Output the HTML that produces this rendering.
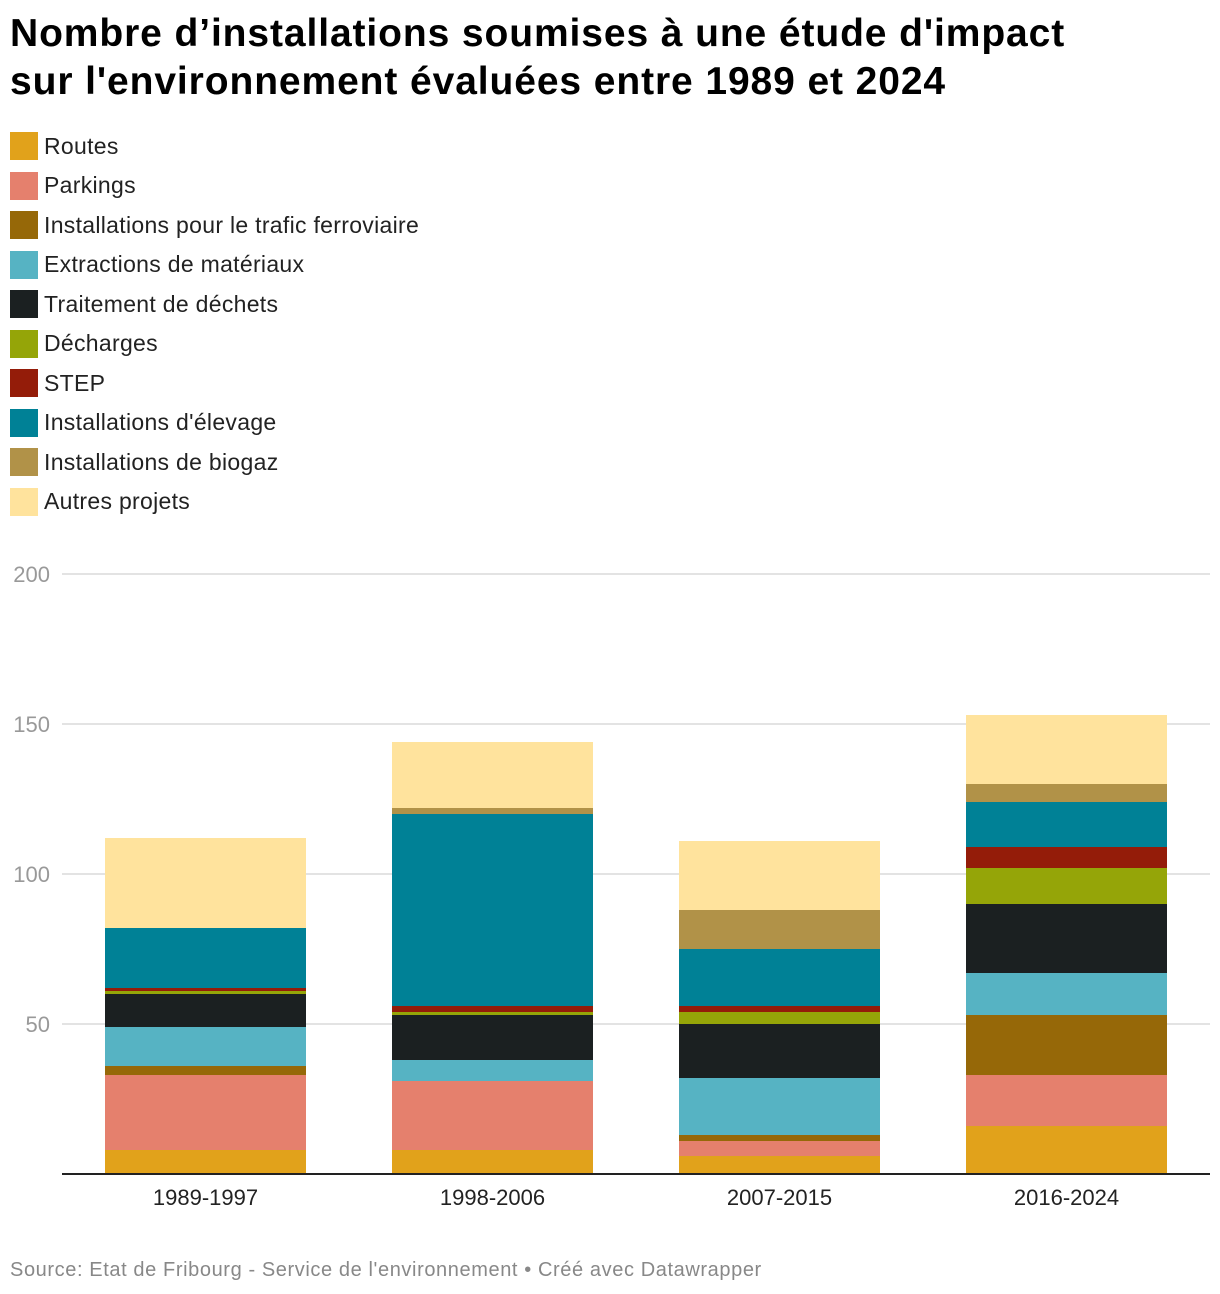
<!DOCTYPE html>
<html><head><meta charset="utf-8">
<style>
body{margin:0;background:#fff;font-family:"Liberation Sans",Arial,sans-serif;}
#wrap{position:relative;width:1220px;height:1294px;overflow:hidden;}
h1{position:absolute;left:10px;top:10px;margin:0;font-size:39px;line-height:48px;font-weight:bold;color:#000;letter-spacing:0.9px;white-space:nowrap;}
.leg{position:absolute;left:10px;height:28px;display:flex;align-items:center;font-size:23px;letter-spacing:0.3px;color:#222;white-space:nowrap;}
.leg span.sw{width:28px;height:28px;margin-right:6px;display:inline-block;}
#src{position:absolute;left:10px;top:1259px;font-size:20px;letter-spacing:0.6px;color:#888;white-space:nowrap;}
</style></head><body>
<div id="wrap">
<h1>Nombre d’installations soumises à une étude d'impact<br>sur l'environnement évaluées entre 1989 et 2024</h1>
<div id="legend"></div>
<svg id="chart" width="1220" height="1294" style="position:absolute;left:0;top:0"></svg>
<div id="src">Source: Etat de Fribourg - Service de l'environnement • Créé avec Datawrapper</div>
</div>
<script>
const categories=["1989-1997","1998-2006","2007-2015","2016-2024"];
const seriesNames=["Routes","Parkings","Installations pour le trafic ferroviaire","Extractions de matériaux","Traitement de déchets","Décharges","STEP","Installations d'élevage","Installations de biogaz","Autres projets"];
const colors=["#e1a21b","#e5806d","#966808","#56b3c3","#1b2021","#95a508","#941c09","#008196","#b19248","#ffe39d"];
const routes=[8,8,6,16];
const parkings=[25,23,5,17];
const ferroviaire=[3,0,2,20];
const extractions=[13,7,19,14];
const dechets=[11,15,18,23];
const decharges=[1,1,4,12];
const step=[1,2,2,7];
const elevage=[20,64,19,15];
const biogaz=[0,2,13,6];
const autres=[30,22,23,23];
const ticks=[0,50,100,150,200];
const series=[routes,parkings,ferroviaire,extractions,dechets,decharges,step,elevage,biogaz,autres];

const NS="http://www.w3.org/2000/svg";
const svg=document.getElementById('chart');
const x0=62,x1=1210,y0=1174,yTop=574,ymax=200;
const y=v=>y0-(v/ymax)*(y0-yTop);
const band=(x1-x0)/categories.length;
const bw=201;
const bx=i=>x0+band*i+(band-bw)/2;

const leg=document.getElementById('legend');
seriesNames.forEach((n,i)=>{
  const d=document.createElement('div');
  d.className='leg';
  d.style.top=(132+i*39.5)+'px';
  
  
  d.innerHTML='<span class="sw" style="background:'+colors[i]+'"></span>'+n;
  leg.appendChild(d);
});

ticks.forEach(t=>{
  if(t>0){
    const l=document.createElementNS(NS,'line');
    l.setAttribute('x1',x0);l.setAttribute('x2',x1);
    l.setAttribute('y1',y(t));l.setAttribute('y2',y(t));
    l.setAttribute('stroke','#e3e3e3');l.setAttribute('stroke-width','2');
    
    
    svg.appendChild(l);
    const tx=document.createElementNS(NS,'text');
    tx.setAttribute('x',50);tx.setAttribute('y',y(t)+8);
    tx.setAttribute('text-anchor','end');tx.setAttribute('font-size','22');
    tx.setAttribute('fill','#999');tx.setAttribute('font-family','Liberation Sans, sans-serif');
    tx.textContent=t;
    
    
    svg.appendChild(tx);
  }
});

categories.forEach((c,i)=>{
  let cum=0;
  series.forEach((s,k)=>{
    const v=s[i];
    if(v>0){
      const r=document.createElementNS(NS,'rect');
      r.setAttribute('x',bx(i));r.setAttribute('width',bw);
      r.setAttribute('y',y(cum+v));r.setAttribute('height',y(cum)-y(cum+v));
      r.setAttribute('fill',colors[k]);
      
      
      svg.appendChild(r);
    }
    cum+=v;
  });
  const tx=document.createElementNS(NS,'text');
  tx.setAttribute('x',bx(i)+bw/2);tx.setAttribute('y',1205);
  tx.setAttribute('text-anchor','middle');tx.setAttribute('font-size','22');
  tx.setAttribute('fill','#222');tx.setAttribute('font-family','Liberation Sans, sans-serif');
  tx.textContent=c;
  
  
  svg.appendChild(tx);
});
const ax=document.createElementNS(NS,'line');
ax.setAttribute('x1',x0);ax.setAttribute('x2',x1);
ax.setAttribute('y1',y0);ax.setAttribute('y2',y0);
ax.setAttribute('stroke','#222');ax.setAttribute('stroke-width','2');


svg.appendChild(ax);
</script>
</body></html>
